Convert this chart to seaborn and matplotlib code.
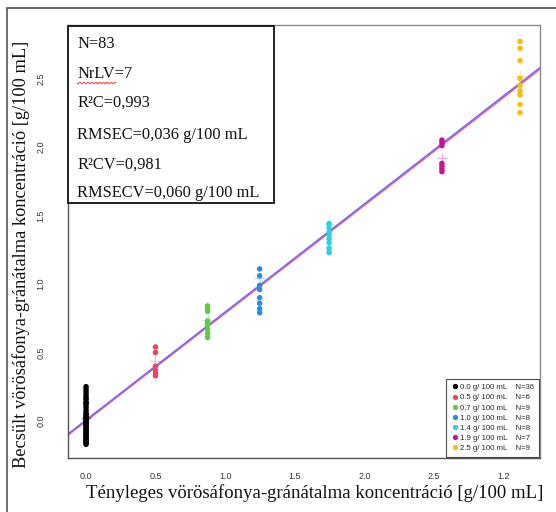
import numpy as np
import pandas as pd
import seaborn as sns
import matplotlib
matplotlib.use("Agg")
import matplotlib.pyplot as plt
from matplotlib.patches import Rectangle
from matplotlib.lines import Line2D

# ---------------- data ----------------
groups = ["0.0", "0.5", "0.7", "1.0", "1.4", "1.9", "2.5"]
group_x = [0.0, 0.40, 0.70, 1.00, 1.40, 2.05, 2.50]
group_n = [36, 6, 9, 8, 8, 7, 9]
pred_00 = [0.25, 0.23, 0.21, 0.19, 0.17, 0.16, 0.14, 0.13, 0.12, 0.10, 0.08, 0.06,
           0.05, 0.04, 0.03, 0.02, 0.01, 0.00, -0.005, -0.01, -0.02, -0.03, -0.04,
           -0.05, -0.06, -0.07, -0.08, -0.09, -0.10, -0.11, -0.12, -0.13, -0.14,
           -0.15, -0.16, -0.17]
pred_05 = [0.54, 0.50, 0.40, 0.37, 0.35, 0.33]
pred_07 = [0.84, 0.82, 0.80, 0.73, 0.71, 0.70, 0.67, 0.64, 0.61]
pred_10 = [1.11, 1.06, 0.99, 0.96, 0.90, 0.86, 0.82, 0.79]
pred_14 = [1.44, 1.41, 1.38, 1.36, 1.33, 1.30, 1.26, 1.23]
pred_19 = [2.05, 2.03, 2.01, 1.88, 1.86, 1.84, 1.82]
pred_25 = [2.77, 2.72, 2.63, 2.50, 2.45, 2.41, 2.38, 2.31, 2.25]
cv_mean = [0.02, 0.44, 0.74, 1.04, 1.44, 1.92, 2.52]

fit_cal = (0.006, 0.984)   # intercept, slope (blue)
fit_cv = (0.002, 0.982)    # intercept, slope (red)

colors = ["#000000", "#e24a62", "#5fc94c", "#2c8ce2", "#29d2e2", "#c81399", "#f6bd12"]

xtick_pos = [0.0, 0.401, 0.802, 1.203, 1.604, 2.005, 2.406]
xtick_labels = ["0.0", "0.5", "1.0", "1.5", "2.0", "2.5", "1.2"]
ytick_pos = [0.0, 0.5, 1.0, 1.5, 2.0, 2.5]
ytick_labels = ["0.0", "0.5", "1.0", "1.5", "2.0", "2.5"]

stats_lines = ["N=83", "NrLV=7", "R\u00b2C=0,993", "RMSEC=0,036 g/100 mL",
               "R\u00b2CV=0,981", "RMSECV=0,060 g/100 mL"]

preds = [pred_00, pred_05, pred_07, pred_10, pred_14, pred_19, pred_25]
rows = []
for g, gx, p in zip(groups, group_x, preds):
    for v in p:
        rows.append({"group": g, "x": gx, "y": v})
df = pd.DataFrame(rows)
df_cv = pd.DataFrame({"group": groups, "x": group_x, "y": cv_mean})

# ---------------- figure ----------------
sns.set_theme(style="white")
plt.rcParams["font.family"] = ["Liberation Sans", "DejaVu Sans"]

fig = plt.figure(figsize=(5.56, 5.12), dpi=100)
ax = fig.add_axes([68 / 556, 1 - 458 / 512, (540 - 68) / 556, (458 - 25) / 512])

xmin, xmax = -0.104, 2.615
ymin, ymax = -0.27, 2.89

# fit lines
xs = np.array([xmin, xmax])
ax.plot(xs, fit_cv[0] + fit_cv[1] * xs, color="#ff6a6a", lw=1.6, zorder=2)
ax.plot(xs, fit_cal[0] + fit_cal[1] * xs, color="#6a6aff", lw=1.2, zorder=2, alpha=0.9)

palette = dict(zip(groups, colors))
sns.scatterplot(data=df_cv, x="x", y="y", hue="group", palette=palette, marker="+",
                s=60, linewidth=1.0, alpha=0.35, legend=False, ax=ax, zorder=3)
sns.scatterplot(data=df, x="x", y="y", hue="group", palette=palette, s=16,
                edgecolor="none", legend=False, ax=ax, zorder=4)

ax.set_xlim(xmin, xmax)
ax.set_ylim(ymin, ymax)

ax.set_xticks(xtick_pos)
ax.set_xticklabels(xtick_labels)
ax.set_yticks(ytick_pos)
ax.set_yticklabels(ytick_labels, rotation=90, va="center")
ax.tick_params(axis="both", which="major", length=0, labelsize=6.5, labelcolor="#333333")
ax.tick_params(axis="x", pad=10)
ax.tick_params(axis="y", pad=16)
ax.set_xticks([0.0, 2.005, 2.406], minor=True)
ax.set_yticks([0.0, 1.0, 2.0], minor=True)
ax.tick_params(axis="both", which="minor", length=5, width=0.8, color="#555555",
               direction="out")

for s in ax.spines.values():
    s.set_color("#8a8a8a")
    s.set_linewidth(1.0)
ax.spines["left"].set_color("#555555")
ax.spines["bottom"].set_color("#555555")

serif = ["Liberation Serif", "DejaVu Serif"]
ax.set_xlabel("Tényleges vörösáfonya-gránátalma koncentráció [g/100 mL]",
              family=serif, fontsize=13.5, color="#111111")
ax.set_ylabel("Becsült vörösáfonya-gránátalma koncentráció [g/100 mL]",
              family=serif, fontsize=13.2, color="#111111")
ax.xaxis.set_label_coords(0.523, -0.060)
ax.yaxis.set_label_coords(-0.081, 0.471)

# legend
handles = [Line2D([], [], marker="o", ls="", color=c, markersize=2.8) for c in colors]
labels = [f"{g} g/ 100 mL    N={n}" for g, n in zip(groups, group_n)]
leg = ax.legend(handles, labels, loc="lower right", fontsize=5.6, frameon=True,
                fancybox=False, edgecolor="#222222", borderaxespad=0.15,
                handletextpad=0.2, handlelength=1.0, labelspacing=0.35,
                borderpad=0.6)
leg.get_frame().set_linewidth(0.8)

# stats box
box = Rectangle((68 / 556, 1 - 203 / 512), (274 - 68) / 556, (203 - 26) / 512,
                transform=fig.transFigure, fill=True, facecolor="white",
                edgecolor="#111111", lw=1.3, zorder=10)
fig.add_artist(box)
line_y = [44, 74, 103, 135, 165, 193]
for t, yy in zip(stats_lines, line_y):
    fig.text(77 / 556, 1 - yy / 512, t, family=serif, fontsize=11.8, va="center",
             ha="left", color="#111111", zorder=11)

# spell-check squiggle under "NrLV"
wx = np.linspace(77, 116, 40)
wy = 83 + 1.0 * np.sin((wx - 77) * 1.6)
fig.add_artist(Line2D(wx / 556, 1 - wy / 512, transform=fig.transFigure,
                      color="#e03030", lw=0.6, zorder=12))

# outer frame
frame = Rectangle((7 / 556, -0.05), 1.1, 1 - 8 / 512 + 0.05, transform=fig.transFigure,
                  fill=False, edgecolor="#555555", lw=1.2)
fig.add_artist(frame)

fig.savefig("out.png", dpi=100)
